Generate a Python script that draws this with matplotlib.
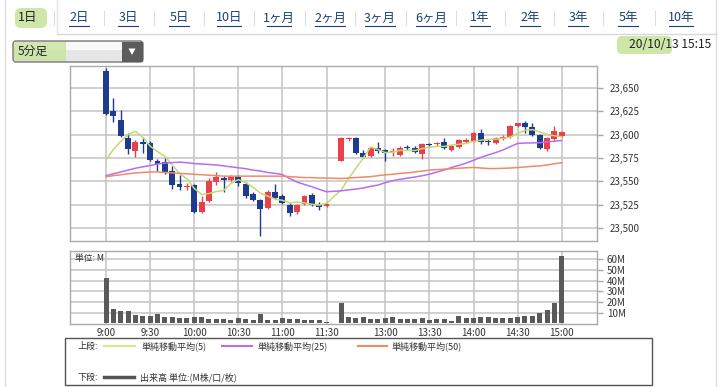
import matplotlib
matplotlib.use("Agg")
import matplotlib.pyplot as plt
from matplotlib.patches import Rectangle, FancyBboxPatch, Polygon
from matplotlib.ticker import FuncFormatter, FixedLocator
import numpy as np
import pandas as pd

plt.rcParams['font.family'] = ['Noto Sans CJK JP', 'DejaVu Sans']

# ---------------- data ----------------
times = ([f"{9 + m // 60}:{m % 60:02d}" for m in range(0, 155, 5)] +
         [f"{12 + m // 60}:{m % 60:02d}" for m in range(30, 185, 5)])

opens = [23668, 23625, 23616, 23596, 23583, 23592, 23591, 23572, 23571, 23561,
         23547, 23544, 23546, 23517, 23529, 23549, 23554, 23551, 23555, 23547,
         23536, 23530, 23521, 23539, 23534, 23525, 23517, 23526, 23535, 23525,
         23523,
         23572, 23595, 23596, 23580, 23577, 23586, 23584, 23581, 23578, 23587,
         23586, 23579, 23590, 23590, 23592, 23584, 23587, 23592, 23593, 23602,
         23593, 23591, 23595, 23597, 23609, 23612, 23608, 23600, 23585, 23595,
         23599]
highs = [23671, 23639, 23626, 23602, 23594, 23597, 23593, 23574, 23575, 23566,
         23557, 23548, 23547, 23534, 23553, 23560, 23556, 23557, 23557, 23549,
         23538, 23531, 23541, 23547, 23536, 23527, 23526, 23535, 23537, 23528,
         23527,
         23597, 23598, 23597, 23584, 23587, 23592, 23585, 23586, 23588, 23589,
         23588, 23591, 23591, 23592, 23596, 23589, 23595, 23596, 23603, 23606,
         23595, 23598, 23600, 23610, 23613, 23615, 23613, 23601, 23597, 23609,
         23604]
lows = [23621, 23614, 23598, 23579, 23576, 23580, 23572, 23561, 23558, 23542,
        23541, 23541, 23516, 23516, 23528, 23546, 23539, 23550, 23545, 23532,
        23529, 23491, 23520, 23531, 23526, 23513, 23515, 23525, 23524, 23519,
        23522,
        23572, 23593, 23579, 23575, 23576, 23580, 23572, 23577, 23577, 23584,
        23580, 23574, 23588, 23588, 23585, 23583, 23586, 23591, 23592, 23590,
        23589, 23590, 23594, 23596, 23608, 23602, 23599, 23585, 23583, 23594,
        23598]
closes = [23622, 23620, 23599, 23585, 23592, 23590, 23573, 23569, 23560, 23546,
          23544, 23545, 23517, 23528, 23550, 23555, 23551, 23555, 23548, 23534,
          23530, 23520, 23539, 23532, 23527, 23516, 23525, 23534, 23525, 23522,
          23526,
          23596, 23596, 23580, 23576, 23586, 23582, 23580, 23582, 23586, 23586,
          23581, 23590, 23589, 23591, 23586, 23588, 23594, 23594, 23602, 23592,
          23592, 23596, 23598, 23609, 23612, 23608, 23600, 23586, 23596, 23604,
          23603]
volumes = [42, 13.1, 11.3, 11.3, 7.9, 7.2, 7.0, 8.8, 5.7, 5.7,
           4.7, 4.7, 6.0, 6.0, 4.1, 4.1, 4.1, 3.5, 5.0, 4.4,
           3.5, 8.8, 3.5, 3.5, 5.0, 4.1, 4.1, 2.9, 2.9, 3.5,
           1.0,
           18.7, 6.3, 5.3, 6.3, 4.1, 4.1, 4.7, 6.0, 4.4, 4.1,
           4.1, 5.0, 3.5, 4.1, 4.1, 2.2, 6.9, 4.7, 5.3, 6.0,
           6.0, 5.3, 5.3, 5.3, 6.0, 7.2, 7.2, 9.4, 12.2, 19.0,
           62.5]

# moving-average values before enough bars of the day exist
ma5_head = [23573, 23584, 23593, 23600]
ma25_head = [23556, 23558, 23560, 23562, 23564, 23565.5, 23567, 23568.5,
             23569.5, 23570, 23570.5, 23570, 23569, 23568.5, 23568, 23567.5,
             23566.5, 23565.5, 23564.5, 23563.5, 23562, 23561, 23559.5, 23558.5]
ma50_head = [23555, 23556, 23557, 23558, 23559, 23559.5, 23560, 23560,
             23559.5, 23559, 23558.5, 23558, 23557.5, 23557, 23556.5, 23556,
             23555.5, 23555.5, 23555.5, 23555.5, 23555.5, 23555.5, 23555.5,
             23555.5, 23555.5, 23555, 23554.5, 23554, 23554, 23553.5, 23553.5,
             23553, 23553.5, 23554, 23554.5, 23555, 23556, 23557, 23557.5,
             23558.5, 23559, 23560, 23561, 23562, 23562.5, 23563, 23563.5,
             23564, 23564.5]

price_ticks = [23500, 23525, 23550, 23575, 23600, 23625, 23650]
vol_ticks = [10, 20, 30, 40, 50, 60]
time_ticks = ["9:00", "9:30", "10:00", "10:30", "11:00", "11:30",
              "13:00", "13:30", "14:00", "14:30", "15:00"]
tabs = ["1日", "2日", "3日", "5日", "10日", "1ヶ月", "2ヶ月", "3ヶ月", "6ヶ月",
        "1年", "2年", "3年", "5年", "10年"]

# ---------------- derived ----------------
n = len(times)
# slot positions: one empty slot for the lunch break after 11:30
xpos = np.array([k if k < 31 else k + 1 for k in range(n)], dtype=float)
pos_of = dict(zip(times, xpos))

cs = pd.Series(closes, dtype=float)
def ma(win, head):
    m = cs.rolling(win).mean().to_numpy()
    m[:len(head)] = head
    return m
ma5 = ma(5, ma5_head)
ma25 = ma(25, ma25_head)
ma50 = ma(50, ma50_head)

O = np.array(opens, float); H = np.array(highs, float)
L = np.array(lows, float); C = np.array(closes, float)
up = C >= O

RED = "#e8414c"
BLUE = "#1d3c8f"
C5 = "#c5d970"
C25 = "#b56ef0"
C50 = "#f08a68"
GRID = "#c4c4c4"
SPINE = "#aaaaaa"

W, Hh = 727, 387
fig = plt.figure(figsize=(W / 100, Hh / 100), dpi=100)
fig.patch.set_facecolor("white")

def fr(x0, y0, x1, y1):
    return [x0 / W, 1 - y1 / Hh, (x1 - x0) / W, (y1 - y0) / Hh]

# overlay for page elements (pixel coords)
ov = fig.add_axes([0, 0, 1, 1])
ov.set_xlim(0, W); ov.set_ylim(Hh, 0); ov.axis("off")
ov.patch.set_alpha(0)

# panel borders
ov.plot([5, 5], [0, 387], color="#dddddd", lw=1)
ov.plot([716, 716], [0, 387], color="#dddddd", lw=1)
ov.plot([57, 716], [34, 34], color="#d8d8d8", lw=1)
ov.plot([57, 57], [0, 34], color="#e4e4e4", lw=1)

tab_x = [28, 79, 128, 179, 229, 279, 330, 380, 431, 480, 530, 578, 628, 681]
for i, (t, x) in enumerate(zip(tabs, tab_x)):
    if i == 0:
        ov.add_patch(FancyBboxPatch((15, 8), 32, 20, boxstyle="round,pad=0,rounding_size=6",
                                    fc="#c9e5a0", ec="none", alpha=0.9))
        ov.text(x, 18, t, ha="center", va="center", fontsize=9, color="#222222")
    else:
        ov.text(x, 18, t, ha="center", va="center", fontsize=9, color="#1a3f7a")
        wpx = 9 * 1.389 * (len(t) * 0.62 if t.startswith("1") and len(t) > 2 else len(t) * 0.8)
        ov.plot([x - wpx / 2, x + wpx / 2], [26, 26], color="#1a3f7a", lw=0.8)
    if i > 0:
        sx = (tab_x[i - 1] + x) / 2
        ov.plot([sx, sx], [11, 25], color="#dddddd", lw=0.8)

# dropdown
ov.add_patch(FancyBboxPatch((13, 41), 130, 21, boxstyle="round,pad=0,rounding_size=3",
                            fc="#e6e6e6", ec="#777777", lw=1))
ov.add_patch(Rectangle((14, 42), 108, 8, fc="#f8f8f8", ec="none"))
ov.add_patch(Rectangle((14, 42), 52, 19, fc="#c9e5a0", ec="none", alpha=0.85))
ov.add_patch(Rectangle((122, 41.5), 20.5, 20, fc="#5c5c5c", ec="none"))
ov.add_patch(Polygon([[128.5, 48.5], [135.5, 48.5], [132, 55]], closed=True, fc="white", ec="none"))
ov.text(18, 51.5, "5分足", ha="left", va="center", fontsize=8.5, color="#222222")

# timestamp
ov.add_patch(FancyBboxPatch((617, 36), 55, 18, boxstyle="round,pad=0,rounding_size=5",
                            fc="#c9e5a0", ec="none", alpha=0.9))
ov.text(711, 45, "20/10/13 15:15", ha="right", va="center", fontsize=8.7, color="#222222")

# legend box
ov.add_patch(Rectangle((65, 338), 587, 47, fc="none", ec="#555555", lw=1))
ov.text(77, 346, "上段:", ha="left", va="center", fontsize=6.5, color="#333333")
ov.plot([104, 135], [346, 346], color="#d6e68a", lw=1.5)
ov.text(141, 346, "単純移動平均(5)", ha="left", va="center", fontsize=6.5, color="#333333")
ov.plot([222, 252], [346, 346], color=C25, lw=1.5)
ov.text(258, 346, "単純移動平均(25)", ha="left", va="center", fontsize=6.5, color="#333333")
ov.plot([358, 387], [346, 346], color=C50, lw=1.5)
ov.text(392, 346, "単純移動平均(50)", ha="left", va="center", fontsize=6.5, color="#333333")
ov.text(77, 377, "下段:", ha="left", va="center", fontsize=6.5, color="#333333")
ov.plot([104, 134], [377, 377], color="#555555", lw=2.5)
ov.text(140, 377, "出来高 単位:(M株/口/枚)", ha="left", va="center", fontsize=6.5, color="#333333")

# ---------------- price panel ----------------
xlim = (-4.9, 66.8)
tick_pos = [pos_of[t] for t in time_ticks]

ax = fig.add_axes(fr(70, 66, 597, 241))
ax.set_xlim(*xlim)
ax.set_ylim(23486, 23673.6)
for s in ax.spines.values():
    s.set_color(SPINE); s.set_linewidth(1)
ax.set_xticks(tick_pos)
ax.set_xticklabels([])
ax.tick_params(axis="x", length=0)
ax.yaxis.tick_right()
ax.yaxis.set_major_locator(FixedLocator(price_ticks))
ax.yaxis.set_major_formatter(FuncFormatter(lambda v, p: f"{v:,.0f}"))
ax.tick_params(axis="y", length=4, width=1, color=SPINE, pad=5, labelsize=7, labelcolor="#333333")
ax.grid(True, color=GRID, lw=1.1)
ax.set_axisbelow(True)

bw = 0.8
body_lo = np.minimum(O, C)
body_h = np.maximum(np.abs(C - O), 1.0)
colors = np.where(up, RED, BLUE)
ax.vlines(xpos, L, H, colors=colors, lw=1, zorder=3)
ax.bar(xpos, body_h, bottom=body_lo, width=bw, color=colors, edgecolor="none", zorder=4)

ax.plot(xpos, ma5, color=C5, lw=1.1, zorder=5)
ax.plot(xpos, ma25, color=C25, lw=1.1, zorder=5)
ax.plot(xpos, ma50, color=C50, lw=1.1, zorder=5)

# ---------------- volume panel ----------------
av = fig.add_axes(fr(70, 251, 597, 324))
av.set_xlim(*xlim)
av.set_ylim(-0.5, 67.5)
for s in av.spines.values():
    s.set_color(SPINE); s.set_linewidth(1)
av.yaxis.tick_right()
av.yaxis.set_major_locator(FixedLocator(vol_ticks))
av.yaxis.set_major_formatter(FuncFormatter(lambda v, p: f"{int(v)}M"))
av.tick_params(axis="y", length=4, width=1, color=SPINE, pad=3, labelsize=7, labelcolor="#333333")
av.set_xticks(tick_pos)
av.set_xticklabels(time_ticks)
av.tick_params(axis="x", length=0, pad=3, labelsize=7, labelcolor="#333333")
av.grid(True, color=GRID, lw=1.1)
av.set_axisbelow(True)
av.bar(xpos, volumes, width=0.68, color="#5a5a5a", edgecolor="none", zorder=3)
av.text(0.01, 0.9, "単位: M", transform=av.transAxes, ha="left", va="center",
        fontsize=6.3, color="#333333", zorder=6)

fig.savefig("out.png", dpi=100)
